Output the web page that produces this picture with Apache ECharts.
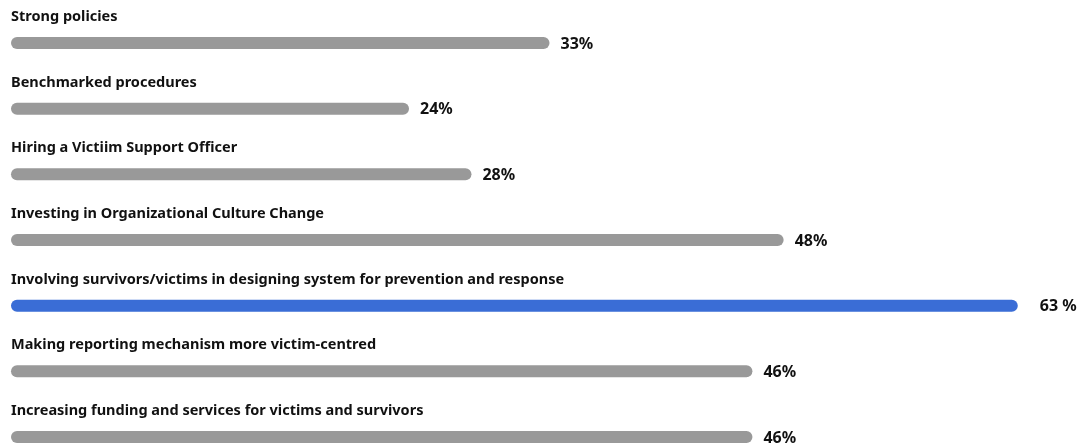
<!DOCTYPE html>
<html>
<head>
<meta charset="utf-8">
<script src="https://cdn.jsdelivr.net/npm/echarts@6/dist/echarts.min.js"></script>
<style>
  html, body { margin: 0; padding: 0; background: #fff; }
  #chart { width: 1083px; height: 446px; }
</style>
</head>
<body>
<div id="chart"></div>
<script>
  // data
  const categories = [
    'Strong policies',
    'Benchmarked procedures',
    'Hiring a Victiim Support Officer',
    'Investing in Organizational Culture Change',
    'Involving survivors/victims in designing system for prevention and response',
    'Making reporting mechanism more victim-centred',
    'Increasing funding and services for victims and survivors'
  ]
  const values = [33, 24, 28, 48, 63, 46, 46]
  const valueLabels = ['33%', '24%', '28%', '48%', '63 %', '46%', '46%']
  const highlight = 4

  const GRAY = '#999999'
  const BLUE = '#3a6dd6'
  const FONT = '"Noto Sans", "Open Sans", sans-serif'

  let chart = echarts.init(document.getElementById('chart'))

  let option = {
    animation: false,
    // first bar centre at y=43, last at y=437
    grid: { left: 11, top: 43, width: 1038, height: 394 },
    xAxis: {
      type: 'value',
      min: -1.5,
      max: 65,
      show: false
    },
    yAxis: {
      type: 'value',
      inverse: true,
      min: 0,
      max: categories.length - 1,
      show: false
    },
    series: [{
      type: 'custom',
      clip: false,
      data: values.map((v, i) => [v, i]),
      renderItem: (params, api) => {
        let idx = api.value(1)
        let end = api.coord([api.value(0), idx])
        let start = api.coord([-1.5, idx])
        let h = 12
        let color = idx === highlight ? BLUE : GRAY
        let gap = idx === highlight ? 22 : 11
        return {
          type: 'group',
          children: [
            {
              type: 'rect',
              shape: { x: start[0], y: end[1] - h / 2, width: end[0] - start[0], height: h, r: h / 2 },
              style: { fill: color }
            },
            {
              type: 'text',
              x: start[0],
              y: end[1] - 26,
              style: {
                text: categories[idx],
                font: 'bold 14.5px ' + FONT,
                fill: '#111',
                textVerticalAlign: 'middle'
              }
            },
            {
              type: 'text',
              x: end[0] + gap,
              y: end[1] + 1,
              style: {
                text: valueLabels[idx],
                font: 'bold 16px ' + FONT,
                fill: '#111',
                textVerticalAlign: 'middle'
              }
            }
          ]
        }
      }
    }]
  }

  chart.setOption(option)
</script>
</body>
</html>
